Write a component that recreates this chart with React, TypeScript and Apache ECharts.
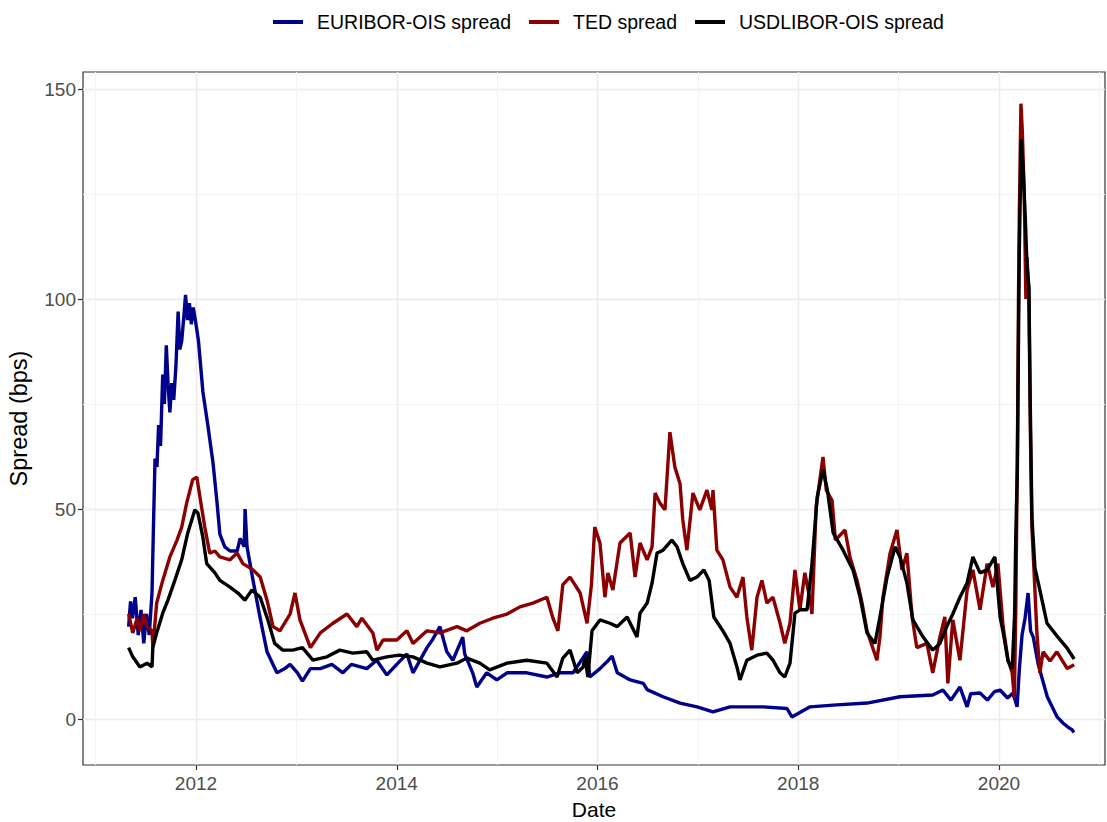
import React, { useEffect, useRef } from "react";
import * as echarts from "echarts";

const seriesNames = ["EURIBOR-OIS spread", "TED spread", "USDLIBOR-OIS spread"];
const xTickYears = [2012, 2014, 2016, 2018, 2020];
const yTickValues = [0, 50, 100, 150];

const euriborOis: [string, number][] = [
  ["2011-05-01", 22], ["2011-05-08", 28], ["2011-05-15", 24], ["2011-05-25", 29],
  ["2011-06-05", 20], ["2011-06-15", 26], ["2011-06-25", 18], ["2011-07-05", 25],
  ["2011-07-15", 20], ["2011-07-25", 30], ["2011-07-30", 45], ["2011-08-05", 62],
  ["2011-08-12", 60], ["2011-08-18", 70], ["2011-08-25", 65], ["2011-09-02", 82],
  ["2011-09-08", 75], ["2011-09-15", 89], ["2011-09-22", 79], ["2011-09-28", 73],
  ["2011-10-05", 80], ["2011-10-12", 76], ["2011-10-20", 84], ["2011-10-28", 97],
  ["2011-11-03", 88], ["2011-11-10", 90], ["2011-11-18", 96], ["2011-11-24", 101],
  ["2011-12-01", 95], ["2011-12-08", 99], ["2011-12-15", 94], ["2011-12-22", 98],
  ["2012-01-01", 94], ["2012-01-10", 90], ["2012-01-18", 84], ["2012-01-26", 78],
  ["2012-02-13", 70], ["2012-03-03", 61], ["2012-03-17", 52], ["2012-03-28", 44],
  ["2012-04-15", 41], ["2012-05-04", 40], ["2012-05-30", 40], ["2012-06-10", 43],
  ["2012-06-25", 41], ["2012-06-28", 50], ["2012-07-05", 41], ["2012-07-27", 33],
  ["2012-08-22", 24], ["2012-09-16", 16], ["2012-10-22", 11], ["2012-11-20", 12],
  ["2012-12-09", 13], ["2013-01-05", 11], ["2013-01-23", 9], ["2013-02-21", 12],
  ["2013-03-29", 12], ["2013-05-10", 13], ["2013-06-19", 11], ["2013-07-20", 13],
  ["2013-09-14", 12], ["2013-10-20", 14], ["2013-11-26", 10.5], ["2014-01-01", 13],
  ["2014-02-07", 15.5], ["2014-03-01", 11], ["2014-04-21", 17], ["2014-05-12", 19],
  ["2014-06-07", 22], ["2014-07-02", 16], ["2014-07-24", 14], ["2014-08-29", 19.5],
  ["2014-09-05", 15.5], ["2014-10-04", 11], ["2014-10-19", 7.6], ["2014-11-24", 11],
  ["2014-12-31", 9.3], ["2015-02-06", 11], ["2015-04-19", 11], ["2015-07-01", 10],
  ["2015-08-17", 11], ["2015-10-04", 11], ["2015-11-24", 16], ["2015-12-04", 10],
  ["2016-01-10", 12], ["2016-02-10", 14], ["2016-02-23", 15], ["2016-03-13", 11],
  ["2016-04-29", 9.3], ["2016-06-16", 8.5], ["2016-06-30", 7], ["2016-08-27", 5.3],
  ["2016-10-28", 3.8], ["2016-12-29", 2.9], ["2017-02-25", 1.7], ["2017-04-28", 2.9],
  ["2017-08-26", 2.9], ["2017-11-21", 2.5], ["2017-12-09", 0.5], ["2018-02-13", 2.9],
  ["2018-05-08", 3.3], ["2018-09-08", 3.8], ["2019-01-06", 5.3], ["2019-05-05", 5.7],
  ["2019-06-11", 6.9], ["2019-07-10", 4.5], ["2019-08-12", 7.6], ["2019-09-07", 2.9],
  ["2019-09-20", 6], ["2019-10-24", 6.2], ["2019-11-20", 4.5], ["2019-12-15", 6.5],
  ["2020-01-05", 6.9], ["2020-02-01", 5], ["2020-02-21", 6.2], ["2020-03-07", 2.9],
  ["2020-03-15", 11.7], ["2020-03-25", 20], ["2020-04-05", 24], ["2020-04-16", 30],
  ["2020-04-25", 21], ["2020-05-05", 19.5], ["2020-05-23", 13], ["2020-06-25", 5.3],
  ["2020-07-31", 0.5], ["2020-08-22", -1], ["2020-09-10", -2], ["2020-09-24", -2.6],
  ["2020-09-30", -3.2],
];

const tedSpread: [string, number][] = [
  ["2011-05-01", 25], ["2011-05-16", 20.5], ["2011-06-01", 24], ["2011-06-11", 21],
  ["2011-06-25", 25], ["2011-07-07", 22], ["2011-07-25", 21], ["2011-07-28", 17],
  ["2011-08-11", 27.6], ["2011-09-02", 33], ["2011-09-28", 38.6], ["2011-10-24", 42.6],
  ["2011-11-10", 45.7], ["2011-11-28", 51.4], ["2011-12-20", 57], ["2012-01-04", 57.6],
  ["2012-01-15", 53], ["2012-02-02", 45.7], ["2012-02-20", 39.5], ["2012-03-10", 40],
  ["2012-03-28", 38.6], ["2012-05-04", 37.9], ["2012-05-30", 39.5], ["2012-06-20", 37],
  ["2012-07-27", 35.5], ["2012-08-22", 33.8], ["2012-09-16", 28.3], ["2012-10-08", 22],
  ["2012-11-02", 21], ["2012-12-09", 25], ["2012-12-27", 30], ["2013-01-14", 23.6],
  ["2013-02-21", 17], ["2013-03-29", 20.5], ["2013-05-14", 22.8], ["2013-07-04", 25],
  ["2013-08-09", 22], ["2013-08-27", 24], ["2013-10-06", 20.5], ["2013-10-21", 16.4],
  ["2013-11-12", 18.8], ["2014-01-01", 18.8], ["2014-02-07", 21], ["2014-03-01", 18],
  ["2014-04-21", 21], ["2014-06-07", 20.5], ["2014-08-08", 22], ["2014-09-13", 21],
  ["2014-10-30", 22.8], ["2014-12-16", 24], ["2015-02-06", 25], ["2015-03-25", 26.7],
  ["2015-05-11", 27.6], ["2015-07-01", 29], ["2015-07-23", 24], ["2015-08-10", 21],
  ["2015-08-28", 32], ["2015-09-23", 33.8], ["2015-10-30", 30], ["2015-11-24", 22.8],
  ["2015-12-10", 32], ["2015-12-22", 45.7], ["2016-01-10", 41.9], ["2016-01-28", 29],
  ["2016-02-08", 34.8], ["2016-02-26", 30.7], ["2016-03-23", 41.9], ["2016-04-29", 44.3],
  ["2016-05-17", 33.8], ["2016-06-04", 41.9], ["2016-06-30", 37.9], ["2016-07-18", 41],
  ["2016-07-29", 53.8], ["2016-08-16", 51.4], ["2016-09-03", 49.8], ["2016-09-21", 68.3],
  ["2016-10-09", 60], ["2016-10-28", 56], ["2016-11-07", 47.4], ["2016-11-22", 40.2],
  ["2016-12-14", 53.8], ["2017-01-08", 49.8], ["2017-02-03", 54.5], ["2017-02-21", 49.8],
  ["2017-02-25", 54.5], ["2017-03-11", 40.2], ["2017-04-02", 37.9], ["2017-04-28", 31.4],
  ["2017-05-23", 29], ["2017-06-14", 33.8], ["2017-06-28", 24.3], ["2017-07-16", 16.4],
  ["2017-08-04", 29], ["2017-08-22", 33], ["2017-09-09", 27.6], ["2017-10-01", 29],
  ["2017-10-27", 22.8], ["2017-11-13", 18], ["2017-12-02", 22.8], ["2017-12-20", 35.5],
  ["2018-01-07", 26], ["2018-01-25", 34.8], ["2018-02-13", 28.3], ["2018-02-20", 25],
  ["2018-03-07", 50.5], ["2018-04-01", 62.4], ["2018-04-13", 54.5], ["2018-05-04", 52],
  ["2018-05-16", 42.6], ["2018-06-20", 45], ["2018-07-08", 38.6], ["2018-08-03", 33],
  ["2018-08-21", 27.6], ["2018-09-08", 21], ["2018-10-14", 14], ["2018-10-25", 19.5],
  ["2018-11-05", 29], ["2018-12-01", 39.5], ["2018-12-26", 45], ["2019-01-13", 35.5],
  ["2019-01-31", 39.5], ["2019-02-19", 24.3], ["2019-03-08", 17], ["2019-04-14", 18],
  ["2019-05-05", 11], ["2019-05-31", 19.5], ["2019-06-18", 24.3], ["2019-06-29", 8.5],
  ["2019-07-17", 23.6], ["2019-08-12", 14], ["2019-09-07", 30.7], ["2019-09-28", 35.5],
  ["2019-10-24", 26], ["2019-11-19", 37], ["2019-12-10", 31.4], ["2019-12-28", 37],
  ["2020-01-16", 22], ["2020-02-03", 14], ["2020-02-18", 11], ["2020-02-26", 5],
  ["2020-03-02", 25], ["2020-03-08", 63], ["2020-03-12", 100], ["2020-03-15", 120],
  ["2020-03-21", 146.5], ["2020-03-26", 140], ["2020-04-02", 125], ["2020-04-08", 100],
  ["2020-04-12", 110], ["2020-04-19", 101], ["2020-04-24", 70], ["2020-04-30", 45.7],
  ["2020-05-11", 30.7], ["2020-05-18", 20.7], ["2020-05-29", 11], ["2020-06-10", 16],
  ["2020-07-05", 13.8], ["2020-07-30", 16], ["2020-09-06", 12], ["2020-10-01", 12.9],
];

const usdLiborOis: [string, number][] = [
  ["2011-05-01", 17], ["2011-05-16", 14.8], ["2011-06-11", 12.4], ["2011-07-07", 13.3],
  ["2011-07-25", 12.4], ["2011-07-28", 17], ["2011-08-11", 20.5], ["2011-09-02", 25.2],
  ["2011-09-21", 28.3], ["2011-10-16", 33], ["2011-11-10", 37.9], ["2011-12-02", 44.3],
  ["2011-12-28", 49.8], ["2012-01-08", 49], ["2012-01-26", 43.3], ["2012-02-09", 37],
  ["2012-03-10", 34.8], ["2012-03-28", 33], ["2012-05-04", 31.4], ["2012-06-02", 30],
  ["2012-06-27", 28.3], ["2012-07-23", 30.7], ["2012-08-22", 29], ["2012-09-19", 23.6],
  ["2012-10-14", 18], ["2012-11-12", 16.4], ["2012-12-19", 16.4], ["2013-01-23", 17],
  ["2013-03-02", 14], ["2013-04-22", 14.8], ["2013-06-08", 16.4], ["2013-07-25", 15.7],
  ["2013-09-14", 16], ["2013-10-06", 14], ["2013-11-26", 14.8], ["2014-01-10", 15.2],
  ["2014-03-01", 14.8], ["2014-04-21", 13.3], ["2014-06-07", 12.4], ["2014-08-08", 13.3],
  ["2014-09-13", 14.5], ["2014-10-30", 13.3], ["2014-12-05", 11.7], ["2015-02-06", 13.3],
  ["2015-04-19", 14], ["2015-07-01", 13.3], ["2015-08-07", 10], ["2015-08-28", 14.5],
  ["2015-09-23", 16.4], ["2015-10-19", 11], ["2015-11-10", 12.4], ["2015-11-16", 14.8],
  ["2015-11-27", 10], ["2015-12-12", 21], ["2016-01-10", 23.6], ["2016-02-15", 22.8],
  ["2016-03-13", 22], ["2016-04-18", 24.3], ["2016-05-24", 19.5], ["2016-06-04", 25.2],
  ["2016-06-30", 27.6], ["2016-07-18", 32.4], ["2016-08-05", 39.5], ["2016-08-27", 40.2],
  ["2016-09-28", 42.6], ["2016-10-17", 41], ["2016-11-07", 37], ["2016-12-03", 33],
  ["2016-12-29", 33.8], ["2017-01-23", 35.5], ["2017-02-11", 33], ["2017-02-28", 24.3],
  ["2017-04-02", 21], ["2017-04-28", 18], ["2017-05-23", 12.4], ["2017-06-03", 9.3],
  ["2017-06-28", 14], ["2017-08-04", 15.2], ["2017-09-09", 15.7], ["2017-10-01", 14],
  ["2017-10-27", 11], ["2017-11-13", 10], ["2017-12-02", 13.3], ["2017-12-20", 25.2],
  ["2018-01-07", 26], ["2018-02-02", 26], ["2018-02-20", 37], ["2018-03-11", 52.9],
  ["2018-04-01", 59.3], ["2018-04-17", 54.5], ["2018-05-08", 44.3], ["2018-06-13", 40.2],
  ["2018-07-19", 35.5], ["2018-08-14", 29], ["2018-09-08", 20.5], ["2018-10-07", 18],
  ["2018-10-25", 24.3], ["2018-11-20", 33.8], ["2018-12-19", 41], ["2019-01-06", 38.6],
  ["2019-01-31", 32.4], ["2019-02-22", 23.6], ["2019-03-31", 19.5], ["2019-05-05", 16.4],
  ["2019-05-31", 18], ["2019-06-25", 22], ["2019-07-17", 25], ["2019-08-12", 29],
  ["2019-09-07", 32.4], ["2019-09-28", 38.6], ["2019-10-24", 34.8], ["2019-11-19", 35.5],
  ["2019-12-17", 38.6], ["2020-01-05", 24.3], ["2020-01-16", 20.7], ["2020-02-03", 13.8],
  ["2020-02-18", 11.9], ["2020-02-27", 25], ["2020-03-02", 43], ["2020-03-08", 60],
  ["2020-03-12", 90], ["2020-03-15", 111], ["2020-03-22", 138], ["2020-03-29", 131],
  ["2020-04-06", 119], ["2020-04-12", 108], ["2020-04-19", 103], ["2020-04-24", 75],
  ["2020-04-30", 48], ["2020-05-11", 36], ["2020-05-29", 30.7], ["2020-06-24", 22.8],
  ["2020-07-30", 19.8], ["2020-09-06", 16.8], ["2020-10-01", 14.3],
];

const seriesColors = ["#00008B", "#8B0000", "#000000"];

function toYear(s: string): number {
  const [y, m, d] = s.split("-").map(Number);
  const start = Date.UTC(y, 0, 1);
  const end = Date.UTC(y + 1, 0, 1);
  return y + (Date.UTC(y, m - 1, d) - start) / (end - start);
}

const FONT = "'Liberation Sans', Arial, sans-serif";

export default function App() {
  const ref = useRef<HTMLDivElement>(null);
  useEffect(() => {
    document.body.style.margin = "0";
    const chart = echarts.init(ref.current!, null, { renderer: "svg" });
    const all = [euriborOis, tedSpread, usdLiborOis];
    chart.setOption({
      animation: false,
      backgroundColor: "#ffffff",
      textStyle: { fontFamily: FONT },
      legend: {
        top: 12,
        left: 273,
        padding: 0,
        icon: "rect",
        itemWidth: 30,
        itemHeight: 4,
        itemGap: 18,
        textStyle: { fontSize: 19.5, color: "#000", fontFamily: FONT, padding: [0, 0, 0, 9] },
        data: seriesNames,
      },
      grid: {
        left: 83,
        right: 2,
        top: 72,
        bottom: 57,
        show: true,
        outerBoundsMode: "none",
        containLabel: false,
        borderColor: "#333333",
        borderWidth: 1.2,
        backgroundColor: "transparent",
      },
      xAxis: {
        type: "value",
        min: 2010.8742,
        max: 2021.056,
        splitNumber: 5,
        name: "Date",
        nameLocation: "middle",
        nameGap: 33,
        nameMoveOverlap: false,
        nameTextStyle: { fontSize: 21, lineHeight: 22, color: "#000", fontFamily: FONT },
        axisLine: { show: false, onZero: false },
        axisTick: { show: true, length: 5, lineStyle: { color: "#333", width: 1.2 }, customValues: xTickYears },
        axisLabel: {
          fontSize: 19,
          color: "#4D4D4D",
          margin: 9,
          fontFamily: FONT,
          customValues: xTickYears,
          formatter: (v: number) => String(Math.round(v)),
        },
        splitLine: { show: true, lineStyle: { color: "#EBEBEB", width: 1.4 } },
        minorTick: { show: false, splitNumber: 2 },
        minorSplitLine: { show: true, lineStyle: { color: "#F3F3F3", width: 1 } },
      },
      yAxis: {
        type: "value",
        min: -10.95,
        max: 154.05,
        splitNumber: 3,
        name: "Spread (bps)",
        nameLocation: "middle",
        nameGap: 52,
        nameMoveOverlap: false,
        nameTextStyle: { fontSize: 23.5, color: "#000", fontFamily: FONT },
        axisLine: { show: false, onZero: false },
        axisTick: { show: true, length: 5, lineStyle: { color: "#333", width: 1.2 }, customValues: yTickValues },
        axisLabel: {
          fontSize: 19,
          color: "#4D4D4D",
          margin: 7,
          fontFamily: FONT,
          customValues: yTickValues,
        },
        splitLine: { show: true, lineStyle: { color: "#EBEBEB", width: 1.4 } },
        minorTick: { show: false, splitNumber: 2 },
        minorSplitLine: { show: true, lineStyle: { color: "#F3F3F3", width: 1 } },
      },
      series: seriesNames.map((name, i) => ({
        name,
        type: "line",
        showSymbol: false,
        symbol: "none",
        color: seriesColors[i],
        lineStyle: { color: seriesColors[i], width: 3.4 },
        data: all[i].map(([d, v]) => [toYear(d), v]),
        z: 2 + i,
      })),
    });
    return () => chart.dispose();
  }, []);
  return (
    <div
      ref={ref}
      style={{ position: "absolute", left: 0, top: 0, width: 1107, height: 822 }}
    />
  );
}
